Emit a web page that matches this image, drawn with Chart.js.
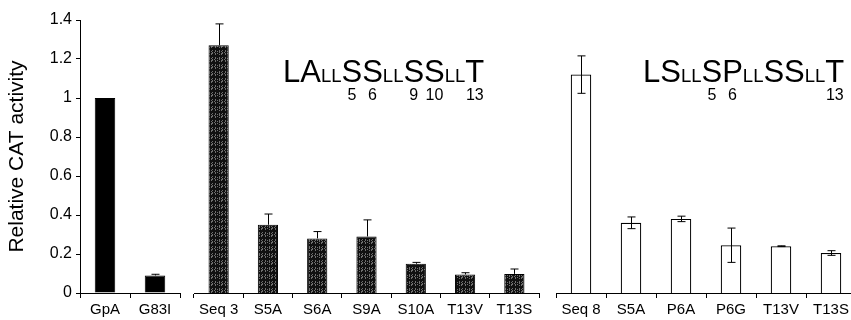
<!DOCTYPE html>
<html>
<head>
<meta charset="utf-8">
<script src="https://cdn.jsdelivr.net/npm/chart.js@4.4.1/dist/chart.umd.min.js"></script>
<style>
  html, body { margin: 0; padding: 0; background: #fff; overflow: hidden; }
  #wrap { position: relative; width: 851px; height: 320px; overflow: hidden; }
  .panel { position: absolute; top: 0; height: 320px; }
</style>
</head>
<body>
<div id="wrap">
  <div class="panel" style="left:0px;width:186px"><canvas id="c1" width="186" height="320"></canvas></div>
  <div class="panel" style="left:188px;width:357px"><canvas id="c2" width="357" height="320"></canvas></div>
  <div class="panel" style="left:550px;width:312px"><canvas id="c3" width="312" height="320"></canvas></div>
</div>
<script>
// data
const gpaLabels = ['GpA', 'G83I'];
const gpaValues = [1.0, 0.09];
const gpaErrors = [0, 0.006];

const seq3Labels = ['Seq 3', 'S5A', 'S6A', 'S9A', 'S10A', 'T13V', 'T13S'];
const seq3Values = [1.27, 0.35, 0.28, 0.29, 0.15, 0.095, 0.098];
const seq3Errors = [0.11, 0.055, 0.035, 0.085, 0.007, 0.009, 0.025];

const seq8Labels = ['Seq 8', 'S5A', 'P6A', 'P6G', 'T13V', 'T13S'];
const seq8Values = [1.12, 0.36, 0.38, 0.245, 0.24, 0.205];
const seq8Errors = [0.096, 0.03, 0.014, 0.088, 0.002, 0.012];

const yTickLabels = ['0', '0.2', '0.4', '0.6', '0.8', '1', '1.2', '1.4'];
const yTitle = 'Relative CAT activity';

// motif text: [text, big?, subscript under this letter]
const seq3Motif = [['L', 1], ['A', 1], ['LL', 0], ['S', 1, '5'], ['S', 1, '6'], ['LL', 0],
                   ['S', 1, '9'], ['S', 1, '10'], ['LL', 0], ['T', 1, '13']];
const seq8Motif = [['L', 1], ['S', 1], ['LL', 0], ['S', 1, '5'], ['P', 1, '6'], ['LL', 0],
                   ['S', 1], ['S', 1], ['LL', 0], ['T', 1, '13']];

const FONT = "'Liberation Sans', Arial, Helvetica, sans-serif";

// stippled fill for the Seq 3 bars
function makeStipple() {
    const rows = [
        '..........',
        '.#..#..#..',
        '.#.#...#.#',
        '.#..#.#...',
        '...##..#.#',
        '.#.#...#..',
        '..........'
    ];
    const c = document.createElement('canvas');
    c.width = rows[0].length;
    c.height = rows.length;
    const g = c.getContext('2d');
    g.fillStyle = '#101010';
    g.fillRect(0, 0, c.width, c.height);
    g.fillStyle = '#6e6e6e';
    rows.forEach((r, y) => {
        for (let x = 0; x < r.length; x++) {
            if (r[x] === '#') g.fillRect(x, y, 1, 1);
        }
    });
    return g.createPattern(c, 'repeat');
}

const errorBars = {
    id: 'errorBars',
    afterDatasetsDraw(chart, args, opts) {
        const ctx = chart.ctx;
        const y = chart.scales.y;
        const meta = chart.getDatasetMeta(0);
        const errs = opts.errors || [];
        ctx.save();
        ctx.strokeStyle = '#000';
        ctx.lineWidth = 1;
        meta.data.forEach((bar, i) => {
            const e = errs[i];
            if (!e) return;
            const v = chart.data.datasets[0].data[i];
            const x = Math.round(bar.x) + 0.5;
            const top = y.getPixelForValue(v + e);
            const bot = opts.upperOnly ? y.getPixelForValue(v) : y.getPixelForValue(v - e);
            ctx.beginPath();
            ctx.moveTo(x, top);
            ctx.lineTo(x, bot);
            ctx.moveTo(x - 4, top);
            ctx.lineTo(x + 4, top);
            if (!opts.upperOnly) {
                ctx.moveTo(x - 4, bot);
                ctx.lineTo(x + 4, bot);
            }
            ctx.stroke();
        });
        ctx.restore();
    }
};

const motifText = {
    id: 'motifText',
    afterDraw(chart, args, opts) {
        if (!opts.parts) return;
        const ctx = chart.ctx;
        ctx.save();
        ctx.fillStyle = '#000';
        ctx.textBaseline = 'alphabetic';
        let x = chart.chartArea.left + opts.dx;
        const base = opts.baseline;
        opts.parts.forEach(p => {
            ctx.font = (p[1] ? 31 : 18.5) + 'px ' + FONT;
            ctx.textAlign = 'left';
            ctx.fillText(p[0], x, base);
            const w = ctx.measureText(p[0]).width;
            if (p[2]) {
                ctx.font = '16px ' + FONT;
                ctx.textAlign = 'center';
                ctx.fillText(p[2], x + w / 2, base + 18);
            }
            x += w;
        });
        ctx.restore();
    }
};

function makeChart(id, labels, values, errors, style, extra) {
    const showY = !!extra.showY;
    return new Chart(document.getElementById(id), {
        type: 'bar',
        data: {
            labels: labels,
            datasets: [{
                data: values,
                backgroundColor: style.fill,
                borderColor: '#000',
                borderWidth: style.border,
                borderSkipped: 'bottom',
                categoryPercentage: 1,
                barPercentage: 0.41
            }]
        },
        options: {
            responsive: false,
            animation: false,
            events: [],
            layout: { padding: { top: 20, bottom: 0, left: showY ? 0 : 6, right: 6 } },
            plugins: {
                legend: { display: false },
                tooltip: { enabled: false },
                errorBars: { errors: errors, upperOnly: style.upperOnly },
                motifText: extra.motif || {}
            },
            scales: {
                x: {
                    afterFit: s => { s.height = 27; },
                    grid: { offset: true, drawOnChartArea: false, drawTicks: true, tickLength: 5, color: '#000' },
                    border: { display: true, color: '#000', width: 1 },
                    ticks: {
                        color: '#000', padding: 3, autoSkip: false, maxRotation: 0,
                        font: { family: FONT, size: 15 }
                    }
                },
                y: {
                    display: showY,
                    min: 0,
                    max: 1.4,
                    afterFit: s => { if (showY) s.width = 80; },
                    grid: { drawOnChartArea: false, drawTicks: true, tickLength: 4, color: '#000' },
                    border: { display: true, color: '#000', width: 1 },
                    ticks: {
                        stepSize: 0.2,
                        color: '#000',
                        padding: 4,
                        font: { family: FONT, size: 16 },
                        callback: (v, i) => yTickLabels[i]
                    },
                    title: {
                        display: true,
                        text: yTitle,
                        color: '#000',
                        padding: { top: 5, bottom: 0 },
                        font: { family: FONT, size: 21, weight: 'normal' }
                    }
                }
            }
        },
        plugins: [errorBars, motifText]
    });
}

makeChart('c1', gpaLabels, gpaValues, gpaErrors,
    { fill: '#000', border: 1, upperOnly: true }, { showY: true });
makeChart('c2', seq3Labels, seq3Values, seq3Errors,
    { fill: makeStipple(), border: 1, upperOnly: true },
    { motif: { parts: seq3Motif, dx: 89, baseline: 82 } });
makeChart('c3', seq8Labels, seq8Values, seq8Errors,
    { fill: '#fff', border: 1.2, upperOnly: false },
    { motif: { parts: seq8Motif, dx: 87, baseline: 82 } });
</script>
</body>
</html>
